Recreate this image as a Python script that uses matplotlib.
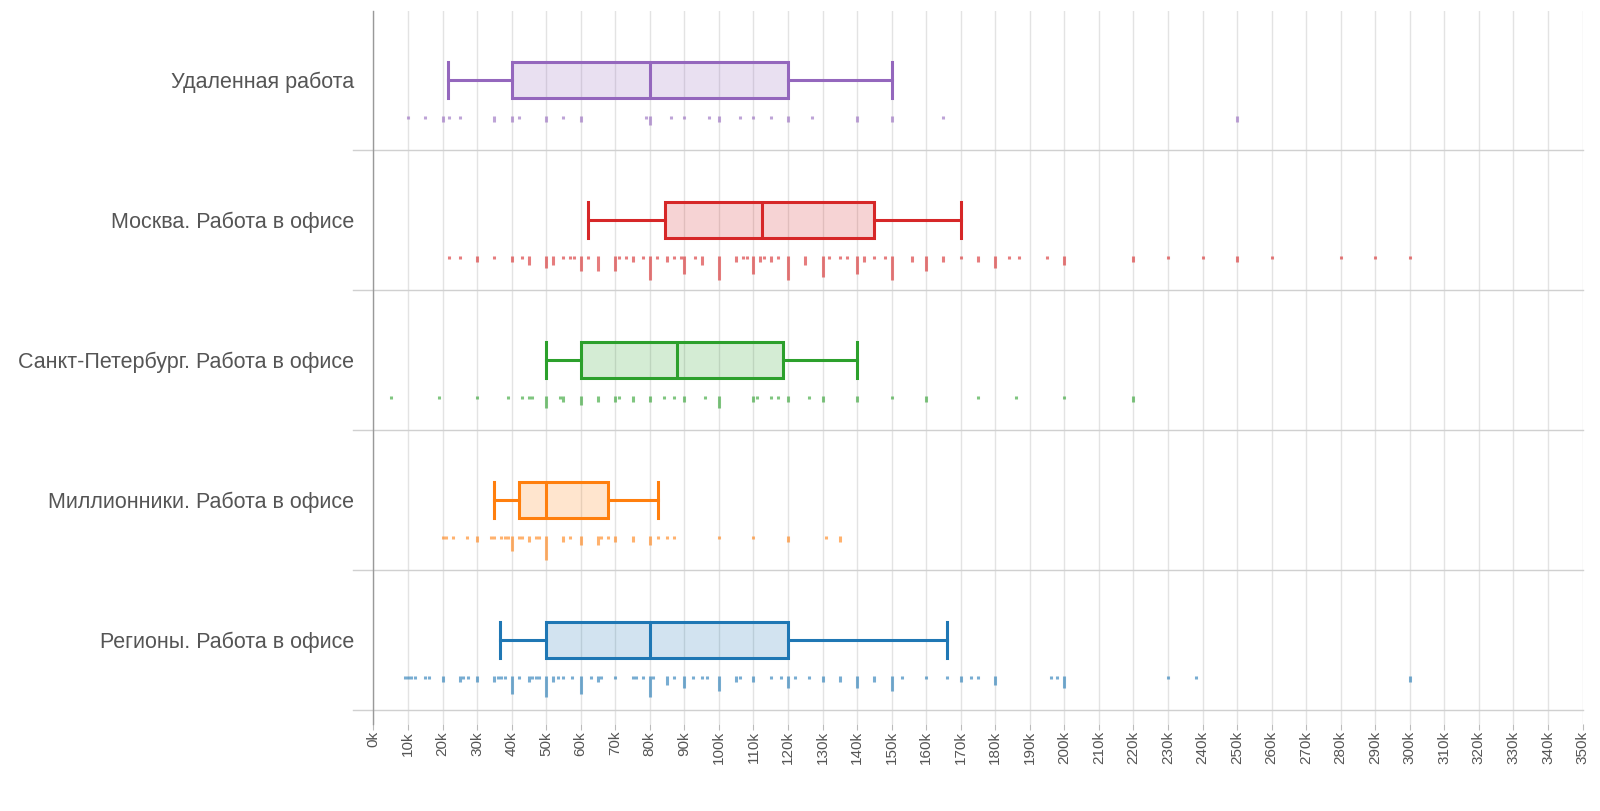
import matplotlib
matplotlib.use("Agg")
import matplotlib.pyplot as plt
import numpy as np

plt.rcParams['font.family'] = ['Liberation Sans', 'DejaVu Sans']

# categories, top to bottom
labels = ["Удаленная работа",
          "Москва. Работа в офисе",
          "Санкт-Петербург. Работа в офисе",
          "Миллионники. Работа в офисе",
          "Регионы. Работа в офисе"]
colors = ["#9467bd", "#d62728", "#2ca02c", "#ff7f0e", "#1f77b4"]

# box stats, thousands of rubles
whislo = [21.5, 62, 50, 35, 36.5]
q1 = [40, 84.5, 60, 42, 50]
med = [80, 112.5, 88, 50, 80]
q3 = [120, 145, 118.5, 68, 120]
whishi = [150, 170, 140, 82.5, 166]

# rug: salary values and how many answers had that value
remote_vals = [10, 15, 20, 22, 25, 35, 40, 42, 50, 55, 60, 79, 80, 86, 90, 97, 100,
               106, 110, 115, 120, 127, 140, 150, 165, 250]
remote_cnt = [1, 1, 2, 1, 1, 2, 2, 1, 2, 1, 2, 1, 3, 1, 1, 1, 2,
              1, 1, 1, 2, 1, 2, 2, 1, 2]

moscow_vals = [22, 25, 30, 35, 40, 43, 45, 50, 52, 55, 57, 58, 60, 62, 65, 70, 71, 73,
               75, 78, 80, 82, 85, 87, 89, 90, 93, 95, 100, 105, 107, 108, 110, 112,
               113, 115, 117, 120, 125, 130, 132, 135, 137, 140, 142, 145, 148, 150,
               156, 160, 165, 170, 175, 180, 184, 187, 195, 200, 220, 230, 240, 250,
               260, 280, 290, 300]
moscow_cnt = [1, 1, 2, 1, 2, 1, 3, 4, 3, 1, 1, 1, 5, 1, 5, 5, 1, 1,
              2, 1, 8, 1, 2, 1, 1, 6, 1, 3, 8, 2, 1, 1, 6, 2,
              1, 2, 1, 8, 3, 7, 1, 1, 1, 6, 2, 1, 1, 8,
              2, 5, 2, 1, 2, 4, 1, 1, 1, 3, 2, 1, 1, 2,
              1, 1, 1, 1]

spb_vals = [5, 19, 30, 39, 43, 45, 46, 50, 54, 55, 60, 65, 70, 71, 75, 80, 84, 87,
            90, 96, 100, 110, 111, 115, 117, 120, 126, 130, 140, 150, 160, 175, 186,
            200, 220]
spb_cnt = [1, 1, 1, 1, 1, 1, 1, 4, 1, 2, 3, 2, 2, 1, 2, 2, 1, 1,
           2, 1, 4, 2, 1, 1, 1, 2, 1, 2, 2, 1, 2, 1, 1,
           1, 2]

mill_vals = [20, 21, 23, 27, 30, 34, 35, 37, 38, 39, 40, 42, 43, 45, 47, 48, 50, 55,
             57, 60, 65, 66, 68, 70, 75, 80, 82.5, 85, 87, 100, 110, 120, 131, 135]
mill_cnt = [1, 1, 1, 1, 2, 1, 1, 1, 1, 1, 5, 1, 1, 2, 1, 1, 8, 2,
            1, 3, 3, 1, 1, 2, 2, 3, 1, 1, 1, 1, 1, 2, 1, 2]

reg_vals = [9, 10, 11, 12, 15, 16, 20, 25, 26, 27.5, 30, 35, 36, 37, 38, 40, 42, 45,
            46, 47, 48, 50, 52, 53.5, 55, 57.5, 60, 63, 65, 66, 70, 75, 76, 78, 80,
            81, 85, 87, 90, 92.5, 95, 96.5, 100, 105, 106, 110, 115, 118, 120, 122,
            126, 130, 135, 140, 145, 150, 153, 160, 166, 170, 173, 175, 180, 196,
            198, 200, 230, 238, 300]
reg_cnt = [1, 1, 1, 1, 1, 1, 2, 2, 1, 1, 2, 2, 1, 1, 1, 6, 1, 2,
           1, 1, 1, 7, 2, 1, 1, 1, 6, 1, 2, 1, 1, 1, 1, 1, 7,
           1, 3, 1, 4, 1, 1, 1, 5, 2, 1, 2, 1, 1, 4, 1,
           1, 2, 2, 4, 2, 5, 1, 1, 1, 2, 1, 1, 3, 1,
           1, 4, 1, 1, 2]

rug_vals = [remote_vals, moscow_vals, spb_vals, mill_vals, reg_vals]
rug_cnt = [remote_cnt, moscow_cnt, spb_cnt, mill_cnt, reg_cnt]

xticks = list(range(0, 351, 10))

fig = plt.figure(figsize=(16, 8.11), dpi=100)
ax = fig.add_axes([0.2334, 0.1073, 0.7557, 0.8795])

pos = np.arange(len(labels))
box_w = 0.26

# grid first so everything sits on top
ax.set_xticks(xticks)
ax.set_xticklabels([f"{v}k" for v in xticks], rotation=90, fontsize=11, color="#555555")
ax.xaxis.grid(True, color="#e3e3e3", lw=1)
ax.set_axisbelow(True)

for p in pos:
    ax.axhline(p + 0.5, xmin=-0.017, xmax=1, color="#d0d0d0", lw=1, clip_on=False, zorder=1)

stats = []
for i in range(len(labels)):
    stats.append(dict(label=labels[i], whislo=whislo[i], q1=q1[i], med=med[i],
                      q3=q3[i], whishi=whishi[i], fliers=[]))

bp = ax.bxp(stats, positions=pos, widths=box_w, capwidths=box_w,
            orientation='horizontal', patch_artist=True, showfliers=False,
            manage_ticks=False)

for i, c in enumerate(colors):
    bp['boxes'][i].set_facecolor(matplotlib.colors.to_rgba(c, 0.2))
    bp['boxes'][i].set_edgecolor(c)
    bp['boxes'][i].set_linewidth(2.2)
    bp['medians'][i].set_color(c)
    bp['medians'][i].set_linewidth(2.2)
    for j in (2 * i, 2 * i + 1):
        bp['whiskers'][j].set_color(c)
        bp['whiskers'][j].set_linewidth(2.2)
        bp['caps'][j].set_color(c)
        bp['caps'][j].set_linewidth(2.2)

# rug ticks under each box, longer when more answers share the value
unit = 0.022
for i, c in enumerate(colors):
    v = np.array(rug_vals[i], dtype=float)
    n = np.array(rug_cnt[i], dtype=float)
    base = pos[i] + 0.255
    ax.vlines(v, base, base + n * unit, colors=c, alpha=0.6, lw=2.2, capstyle='butt')

ax.set_yticks(pos)
ax.set_yticklabels(labels, fontsize=15.5, color="#555555")
ax.tick_params(axis='y', length=0, pad=14)
ax.tick_params(axis='x', length=4, color="#bbbbbb", pad=1)

ax.set_xlim(0, 350)
ax.set_ylim(4.6, -0.495)

for s in ("top", "right", "bottom"):
    ax.spines[s].set_visible(False)
ax.spines["left"].set_color("#999999")
ax.spines["left"].set_linewidth(1)

fig.savefig("out.png", dpi=100)
